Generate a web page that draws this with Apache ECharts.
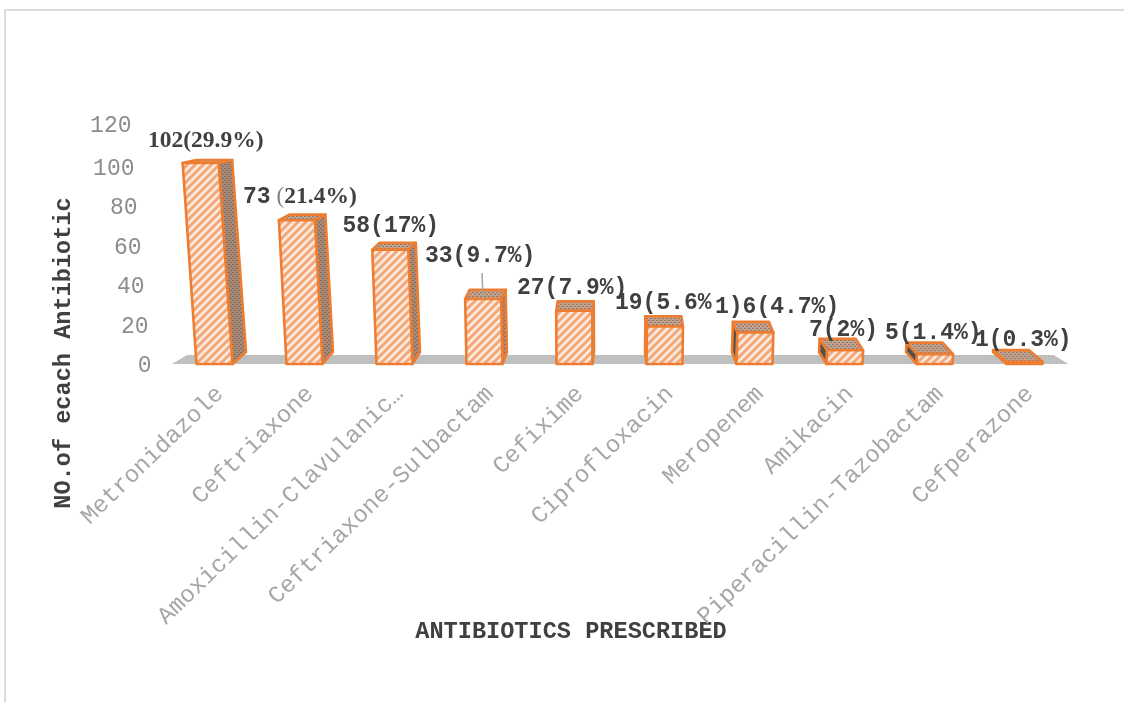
<!DOCTYPE html>
<html>
<head>
<meta charset="utf-8">
<style>html,body{margin:0;padding:0;background:#fff}#chart{width:1124px;height:702px}</style>
<script src="https://cdn.jsdelivr.net/npm/echarts@6/dist/echarts.min.js"></script>
</head>
<body>
<div id="chart"></div>
<script>
// Prescription counts per antibiotic
const categories = ['Metronidazole', 'Ceftriaxone', 'Amoxicillin-Clavulanic…', 'Ceftriaxone-Sulbactam', 'Cefixime',
  'Ciprofloxacin', 'Meropenem', 'Amikacin', 'Piperacillin-Tazobactam', 'Cefperazone'];
const counts = [102, 73, 58, 33, 27, 19, 16, 7, 5, 1];
const valueTicks = [0, 20, 40, 60, 80, 100, 120];
const dataLabels = ['{s|102(29.9%)}', '{m|73}{g| }{r|(}{s|21.4%)}', '{m|58(17%)}', '{m|33(9.7%)}', '{m|27(7.9%)}',
  '{m|19(5.6%}', '{m|1)6(4.7%)}', '{m|7(2%)}', '{m|5(1.4%)}', '{m|1(0.3%)}'];

// Label placement relative to each bar: left edge from the bar centre, middle shift from the bar top
const labelDx = [-66.5, -61.5, -52, -59.5, -57.5, -49.5, -39.5, -35.5, -49.5, -49.5];
const labelDy = [-22, -23, -24, -43, -23, -23, -25, -20, -21, -22];

const ORANGE = '#ed7d31';
const MONO = '"Liberation Mono", monospace';
const SERIF = '"Liberation Serif", serif';

function stripePattern() {
  const c = document.createElement('canvas');
  c.width = c.height = 8;
  const g = c.getContext('2d');
  g.fillStyle = '#fdeade';
  g.fillRect(0, 0, 8, 8);
  g.strokeStyle = '#f3a778';
  g.lineWidth = 3;
  [[-2, 2, 2, -2], [-2, 10, 10, -2], [6, 10, 10, 6]].forEach(function (s) {
    g.beginPath(); g.moveTo(s[0], s[1]); g.lineTo(s[2], s[3]); g.stroke();
  });
  return { image: c, repeat: 'repeat' };
}
function gridPattern(base, dot) {
  const c = document.createElement('canvas');
  c.width = c.height = 4;
  const g = c.getContext('2d');
  g.fillStyle = base;
  g.fillRect(0, 0, 4, 4);
  g.fillStyle = dot;
  g.fillRect(0, 0, 2, 1); g.fillRect(2, 2, 2, 1);
  return { image: c, repeat: 'repeat' };
}
const frontFill = stripePattern();
const sideFill = gridPattern('#a88a76', '#7f6a5e');
const topFill = gridPattern('#bfa18e', '#97796a');
const darkFill = gridPattern('#4c4c4c', '#6e5a50');

// Oblique view: verticals fan out from the chart middle, depth shrinks with height
const HALF = 18;
function projector(api, i, v) {
  const p = api.coord([i, v]);
  const base = api.coord([i, 0]);
  const h = base[1] - p[1];
  const lean = (base[0] - 600) / 5600;
  const depthX = (619 - base[0]) / 30;
  const depthY = 12 - 0.0445 * h;
  return function (u, z, atTop) {
    const hh = atTop ? h : 0;
    const dy = atTop ? depthY : 12;
    return [base[0] + u + lean * hh + z * depthX, base[1] - hh - z * dy];
  };
}

function renderBar(params, api) {
  const i = api.value(0), v = api.value(1);
  const P = projector(api, i, v);
  const top = api.coord([i, v]);
  const base = api.coord([i, 0]);
  const children = [];
  const edge = { stroke: ORANGE, lineWidth: 2.6, lineJoin: 'round' };
  const face = function (pts, fill) {
    children.push({ type: 'polygon', shape: { points: pts }, style: Object.assign({ fill: fill }, edge) });
  };
  const depthX = (619 - base[0]) / 30;
  if (depthX > 1) {
    face([P(HALF, 0, false), P(HALF, 1, false), P(HALF, 1, true), P(HALF, 0, true)], sideFill);
  } else if (depthX < -1) {
    face([P(-HALF, 0, false), P(-HALF, 1, false), P(-HALF, 1, true), P(-HALF, 0, true)], darkFill);
  }
  face([P(-HALF, 0, true), P(-HALF, 1, true), P(HALF, 1, true), P(HALF, 0, true)], topFill);
  face([P(-HALF, 0, false), P(HALF, 0, false), P(HALF, 0, true), P(-HALF, 0, true)], frontFill);
  children.push({
    type: 'text',
    style: {
      text: dataLabels[i],
      x: base[0] + labelDx[i],
      y: top[1] + labelDy[i],
      verticalAlign: 'middle',
      align: 'left',
      rich: {
        m: { fontFamily: MONO, fontWeight: 'bold', fontSize: 23, fill: '#404040' },
        g: { fontFamily: SERIF, fontSize: 24, fill: '#404040' },
        r: { fontFamily: SERIF, fontSize: 23, fill: '#7f7f7f' },
        s: { fontFamily: SERIF, fontWeight: 'bold', fontSize: 23.5, fill: '#404040' }
      }
    }
  });
  if (i === 3) {
    // leader line from the displaced label down to its bar
    children.push({
      type: 'line',
      shape: { x1: base[0] - 2.5, y1: top[1] - 26, x2: base[0] - 1.5, y2: top[1] + 1 },
      style: { stroke: '#a6a6a6', lineWidth: 1.5 }
    });
  }
  return { type: 'group', children: children };
}

function renderFloor(params, api) {
  const a = api.coord([0, 0]);
  const b = api.coord([categories.length - 1, 0]);
  return {
    type: 'polygon',
    shape: { points: [[a[0] - 42.5, a[1]], [b[0] + 44, b[1]], [b[0] + 29, b[1] - 9], [a[0] - 27.5, a[1] - 9]] },
    style: { fill: '#bfbfbf' }
  };
}

// Tick labels drift left with height, following the slanted wall
const tickRich = {};
valueTicks.forEach(function (t) {
  tickRich['t' + t] = {
    fontFamily: MONO, fontSize: 23, color: '#8c8c8c',
    padding: [t === 120 ? 0 : 4, Math.round(t * 0.17), t === 120 ? 4 : 0, 0]
  };
});

const chart = echarts.init(document.getElementById('chart'), null, { renderer: 'canvas' });
chart.setOption({
  animation: false,
  backgroundColor: '#ffffff',
  grid: { left: 169.5, right: 54.5, top: 127.6, height: 236.4, containLabel: false },
  xAxis: {
    type: 'category',
    data: categories,
    axisLine: { show: false },
    axisTick: { show: false },
    axisLabel: {
      interval: 0, rotate: 44, margin: 15, hideOverlap: false,
      align: 'right', verticalAlign: 'top', padding: [0, 4, 0, 0],
      fontFamily: MONO, fontSize: 24, color: '#a6a6a6'
    }
  },
  yAxis: {
    type: 'value',
    min: 0, max: 120, interval: 20,
    axisLine: { show: false },
    axisTick: { show: false },
    splitLine: { show: false },
    axisLabel: {
      margin: 18,
      formatter: function (v) { return '{t' + v + '|' + v + '}'; },
      rich: tickRich
    }
  },
  series: [
    { type: 'custom', z: 1, silent: true, clip: false, data: [[0, 0]], renderItem: renderFloor, encode: { x: 0, y: 1 } },
    {
      type: 'custom', z: 2, clip: false,
      data: counts.map(function (c, i) { return [i, c]; }),
      renderItem: renderBar,
      encode: { x: 0, y: 1 }
    }
  ],
  graphic: [
    { type: 'rect', z: -1, shape: { x: 5, y: 10, width: 1130, height: 700 }, style: { fill: 'none', stroke: '#dcdcdc', lineWidth: 2 } },
    {
      type: 'text', x: 64, y: 353, rotation: Math.PI / 2,
      style: { text: 'NO.of ecach Antibiotic', align: 'center', verticalAlign: 'middle', fontFamily: MONO, fontWeight: 'bold', fontSize: 23.6, fill: '#404040' }
    },
    {
      type: 'text', x: 571, y: 632,
      style: { text: 'ANTIBIOTICS PRESCRIBED', align: 'center', verticalAlign: 'middle', fontFamily: MONO, fontWeight: 'bold', fontSize: 23.6, fill: '#404040' }
    }
  ]
});
</script>
</body>
</html>
